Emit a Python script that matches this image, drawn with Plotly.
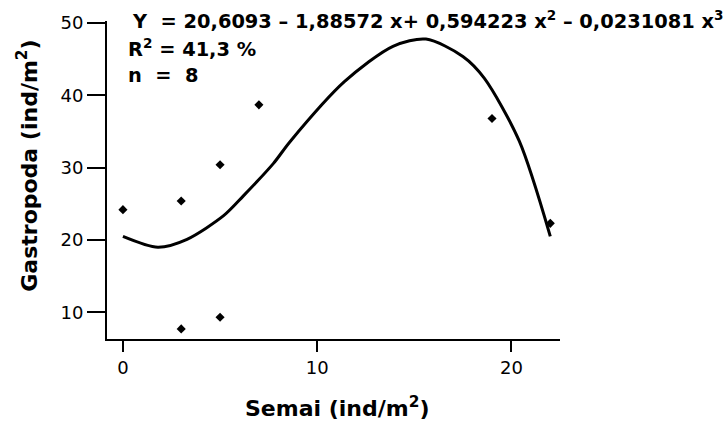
import plotly.graph_objects as go

# Observed data points
semai = [0, 3, 3, 5, 5, 7, 19, 22]
gastropoda = [24.2, 25.4, 7.7, 30.4, 9.3, 38.7, 36.8, 22.3]

# Fitted curve
curve_x = [0, 1.8, 3.3, 5.2, 6.2, 7.75, 8.6, 11.4, 13.9, 15.6, 17.5, 18.6, 20.4, 22.0]
curve_y = [20.5, 19.0, 20.1, 23.4, 26.1, 30.6, 33.6, 41.9, 46.8, 47.8, 45.4, 42.4, 33.7, 20.5]

x_ticks = [0, 10, 20]
y_ticks = [10, 20, 30, 40, 50]

eq_lines = [
    "Y  = 20,6093 – 1,88572 x+ 0,594223 x<sup>2</sup> – 0,0231081 x<sup>3</sup>",
    "R<sup>2</sup> = 41,3 %",
    "n  =  8",
]
x_title = "Semai (ind/m<sup>2</sup>)"
y_title = "Gastropoda (ind/m<sup>2</sup>)"

FONT = "DejaVu Sans"

fig = go.Figure()
fig.add_trace(go.Scatter(
    x=curve_x, y=curve_y, mode="lines",
    line=dict(color="black", width=3, shape="spline", smoothing=0.8),
    showlegend=False, hoverinfo="skip"))
fig.add_trace(go.Scatter(
    x=semai, y=gastropoda, mode="markers",
    marker=dict(symbol="diamond", size=7, color="black"),
    showlegend=False))

W, H = 726, 426
L, R, T, B = 107, 166, 16, 87
pw, ph = W - L - R, H - T - B

def px(xp):
    return (xp - L) / pw

def py(yp):
    return (H - B - yp) / ph

ann_pos = [(130, 15), (126, 43), (126, 71)]
annotations = []
for txt, (xp, yp) in zip(eq_lines, ann_pos):
    annotations.append(dict(
        text=txt, x=px(xp), y=py(yp), xref="paper", yref="paper",
        xanchor="left", yanchor="middle", showarrow=False,
        font=dict(family=FONT, size=19.4, color="black", weight="bold")))

# axis titles placed as annotations
annotations.append(dict(
    text=y_title, x=px(27), y=py(163), xref="paper", yref="paper",
    xanchor="center", yanchor="middle", textangle=-90, showarrow=False,
    font=dict(family=FONT, size=22, color="black", weight="bold")))
annotations.append(dict(
    text=x_title, x=px(337), y=py(408), xref="paper", yref="paper",
    xanchor="center", yanchor="middle", showarrow=False,
    font=dict(family=FONT, size=22, color="black", weight="bold")))

fig.update_layout(
    width=W, height=H,
    margin=dict(l=L, r=R, t=T, b=B, pad=0),
    paper_bgcolor="white", plot_bgcolor="white",
    font=dict(family=FONT, color="black"),
    annotations=annotations,
    xaxis=dict(
        range=[-0.82, 22.5], tickvals=x_ticks, ticktext=[str(v) for v in x_ticks],
        showgrid=False, zeroline=False, showline=True, linecolor="black", linewidth=2,
        ticks="outside", ticklen=11, tickwidth=1.5, tickcolor="black",
        tickfont=dict(family=FONT, size=18, color="black"),
    ),
    yaxis=dict(
        range=[6.3, 50.3], tickvals=y_ticks, ticktext=[str(v) for v in y_ticks],
        showgrid=False, zeroline=False, showline=True, linecolor="black", linewidth=2,
        ticks="outside", ticklen=18, tickwidth=1.5, tickcolor="black",
        tickfont=dict(family=FONT, size=18, color="black"),
    ),
)

fig.write_html("out.html")
